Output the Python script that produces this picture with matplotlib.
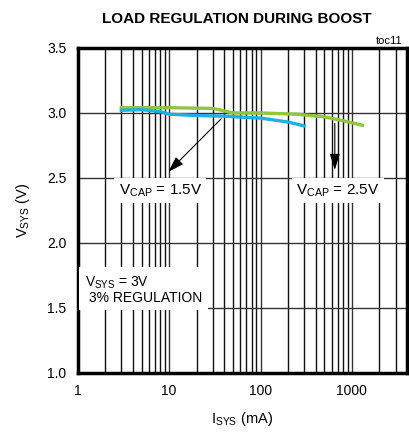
import matplotlib
matplotlib.use("Agg")
import matplotlib.pyplot as plt
from matplotlib.ticker import FixedLocator, NullFormatter

plt.rcParams['font.family'] = ['Liberation Sans', 'DejaVu Sans']

# VCAP = 1.5V (blue)
i_15 = [3, 5, 8, 10, 20, 40, 100, 200, 300]
v_15 = [3.02, 3.025, 3.01, 2.99, 2.98, 2.975, 2.96, 2.93, 2.90]
# VCAP = 2.5V (green)
i_25 = [3, 10, 30, 50, 100, 250, 500, 800, 1300]
v_25 = [3.04, 3.04, 3.035, 3.0, 3.0, 2.99, 2.97, 2.94, 2.905]

x_ticks = [1, 10, 100, 1000]
y_ticks = [1.0, 1.5, 2.0, 2.5, 3.0, 3.5]

fig = plt.figure(figsize=(4.09, 4.36), dpi=100)
ax = fig.add_axes([0.19, 0.145, 0.805, 0.745])

ax.set_xscale('log')
ax.set_xlim(1, 4000)
ax.set_ylim(1.0, 3.5)
ax.xaxis.set_major_locator(FixedLocator(x_ticks))
ax.set_xticklabels([str(t) for t in x_ticks])
minor = [m * 10 ** d for d in range(0, 4) for m in range(2, 10) if m * 10 ** d < 4000]
ax.xaxis.set_minor_locator(FixedLocator(minor))
ax.xaxis.set_minor_formatter(NullFormatter())
ax.set_yticks(y_ticks)
ax.set_yticklabels([f"{t:.1f}" for t in y_ticks])
ax.tick_params(which='both', length=0, labelsize=10, pad=8)

ax.grid(which='major', color='#333333', linewidth=1.0)
ax.grid(which='minor', axis='x', color='#111111', linewidth=1.0)
for s in ax.spines.values():
    s.set_linewidth(2.5)
    s.set_color('black')

ax.plot(i_25, v_25, color='#8dc63f', linewidth=2.4, zorder=3)
ax.plot(i_15, v_15, color='#1cb0e6', linewidth=2.4, zorder=3)

arrow = dict(arrowstyle='-|>,head_length=0.7,head_width=0.22', color='black', lw=0.8, mutation_scale=14)
ax.annotate('', xy=(9.3, 2.53), xytext=(39, 2.97), arrowprops=arrow, zorder=4)
ax.annotate('', xy=(650, 2.54), xytext=(650, 2.94), arrowprops=arrow, zorder=4)

box = dict(facecolor='white', edgecolor='none', pad=3)
ax.text(8.0, 2.40, r'V$_{\mathregular{CAP}}$ = 1.5V', ha='center', va='center', fontsize=11, bbox=box, zorder=5)
ax.text(700, 2.40, r'V$_{\mathregular{CAP}}$ = 2.5V', ha='center', va='center', fontsize=11, bbox=box, zorder=5)
ax.text(1.2, 1.64, 'V$_{\\mathregular{SYS}}$ = 3V\n 3% REGULATION', ha='left', va='center',
        multialignment='left', fontsize=10, linespacing=1.0,
        bbox=dict(facecolor='white', edgecolor='none', pad=4), zorder=5)

ax.set_xlabel(r'I$_{\mathregular{SYS}}$ (mA)', fontsize=10.5, labelpad=9)
ax.set_ylabel(r'V$_{\mathregular{SYS}}$ (V)', fontsize=10.5, labelpad=11)
fig.text(0.58, 0.957, 'LOAD REGULATION DURING BOOST', ha='center', va='center',
         fontsize=11, fontweight='bold')
fig.text(0.985, 0.905, 'toc11', ha='right', va='center', fontsize=8)

fig.savefig('out.png', dpi=100)
